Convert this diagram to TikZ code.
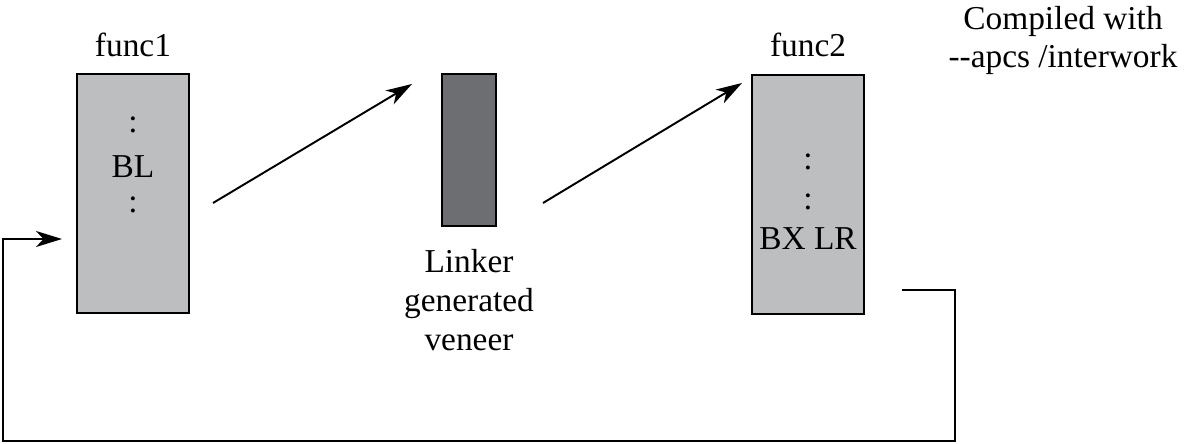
\documentclass[tikz,border=0pt]{standalone}
\usepackage{fontspec}
\setmainfont{Liberation Serif}
\usetikzlibrary{arrows.meta,positioning}
\definecolor{funcgray}{HTML}{BCBEC0}
\definecolor{veneergray}{HTML}{6D6E71}
\tikzset{
  funcbox/.style={draw, fill=funcgray, minimum width=2.24cm, minimum height=4.78cm, inner sep=0pt},
  veneerbox/.style={draw, fill=veneergray, minimum width=1.08cm, minimum height=3.04cm, inner sep=0pt},
}

\begin{document}
\begin{tikzpicture}[font=\fontsize{19}{22}\selectfont, line width=1.1pt, >={Stealth[length=5.2mm,width=3.2mm,inset=1.5mm]}]
			\useasboundingbox (0,0) rectangle (23.68,8.86);
			\node[funcbox] (f1) at (2.66,4.99) {}; % draw func1 box
			\node (f1name) at (2.66,7.96) {func1};
			\node (f1dots) at (2.66,6.36) {:};
			\node (f1bl) at (2.66,5.52) {BL};
			\node (f1dotsb) at (2.66,4.76) {:};
			\node[veneerbox] (ven) at (9.38,5.86) {}; % draw veneer
			\node[align=center] (venname) at (9.38,2.86) {Linker\\generated\\veneer};
			\node[funcbox] (f2) at (16.16,4.97) {}; % draw func2 box
			\node (f2name) at (16.16,7.96) {func2};
			\node (f2dots) at (16.16,5.62) {:};
			\node (f2dotsb) at (16.16,4.82) {:};
			\node (f2bx) at (16.16,4.08) {BX LR};
			\node[align=center] (note) at (21.26,8.05) {Compiled with\\-\kern0pt-apcs /interwork};
			\coordinate (call1) at (4.26,4.80);
			\coordinate (call1end) at (8.24,7.18);
			\coordinate (call2) at (10.86,4.80);
			\coordinate (call2end) at (14.84,7.20);
			\coordinate (ret) at (18.04,3.06);
			\coordinate (retcorner) at (19.10,0.04);
			\coordinate (retleft) at (0.06,4.08);
			\coordinate (retend) at (1.24,4.08);
			\draw[->] (call1) -- (call1end); % arrow to veneer
			\draw[->] (call2) -- (call2end); % arrow to func2
			\draw[->] (ret) -| (retcorner) -| (retleft) -- (retend); % return to func1
		\end{tikzpicture}
\end{document}
